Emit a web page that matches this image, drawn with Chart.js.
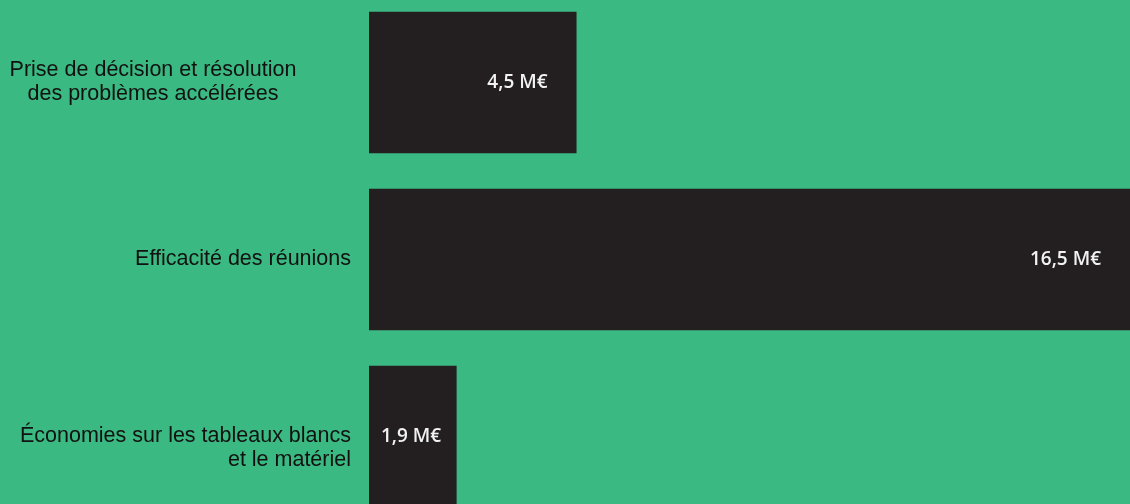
<!DOCTYPE html>
<html>
<head>
<meta charset="utf-8">
<script src="https://cdn.jsdelivr.net/npm/chart.js@4/dist/chart.umd.min.js"></script>
<style>
  html, body { margin: 0; padding: 0; background: #3bb982; overflow: hidden; }
  #wrap { position: absolute; left: 0; top: -6px; width: 1130px; height: 531px; }
</style>
</head>
<body>
<div id="wrap"><canvas id="chart"></canvas></div>
<script>
// données
const categories = [
    ['Prise de décision et résolution', 'des problèmes accélérées'],
    ['Efficacité des réunions'],
    ['Économies sur les tableaux blancs', 'et le matériel']
];
const values = [4.5, 16.5, 1.9];
const valueLabels = ['4,5 M€', '16,5 M€', '1,9 M€'];

// alignement des libellés de gauche (comme sur l'original)
const labelAlign = ['center', 'right', 'right'];
const labelShift = [0, 0, 12];

const categoryLabels = {
    id: 'categoryLabels',
    afterDatasetsDraw(chart) {
        const ctx = chart.ctx;
        const yScale = chart.scales.y;
        ctx.save();
        ctx.font = '21.5px "Liberation Sans"';
        ctx.fillStyle = '#111111';
        ctx.textBaseline = 'middle';
        categories.forEach((lines, i) => {
            const y = yScale.getPixelForTick(i) + labelShift[i];
            const lineH = 24;
            const top = y - (lines.length - 1) * lineH / 2;
            let x;
            if (labelAlign[i] == 'center') {
                ctx.textAlign = 'center';
                x = 153;
            } else {
                ctx.textAlign = 'right';
                x = 351;
            }
            lines.forEach((t, j) => {
                ctx.fillText(t, x, top + j * lineH);
            });
        });
        ctx.restore();
    }
};

const valueText = {
    id: 'valueText',
    afterDatasetsDraw(chart) {
        const ctx = chart.ctx;
        const meta = chart.getDatasetMeta(0);
        ctx.save();
        ctx.font = '600 19px "Open Sans", sans-serif';
        ctx.fillStyle = '#f2f2f2';
        ctx.textBaseline = 'middle';
        ctx.textAlign = 'left';
        meta.data.forEach((bar, i) => {
            const w = ctx.measureText(valueLabels[i]).width;
            let x = bar.x - 29 - w;
            if (x < bar.base + 12) x = bar.base + 12;
            ctx.fillText(valueLabels[i], x, bar.y);
        });
        ctx.restore();
    }
};

new Chart(document.getElementById('chart'), {
    type: 'bar',
    data: {
        labels: categories,
        datasets: [{
            data: values,
            backgroundColor: '#231f20',
            borderWidth: 0,
            barPercentage: 0.8,
            categoryPercentage: 1
        }]
    },
    options: {
        indexAxis: 'y',
        responsive: true,
        maintainAspectRatio: false,
        animation: false,
        layout: { padding: { left: 369, right: 0, top: 0, bottom: 0 } },
        scales: {
            x: { min: 0, max: 16.5, display: false },
            y: { display: false }
        },
        plugins: {
            legend: { display: false },
            tooltip: { enabled: false }
        }
    },
    plugins: [categoryLabels, valueText]
});
</script>
</body>
</html>
